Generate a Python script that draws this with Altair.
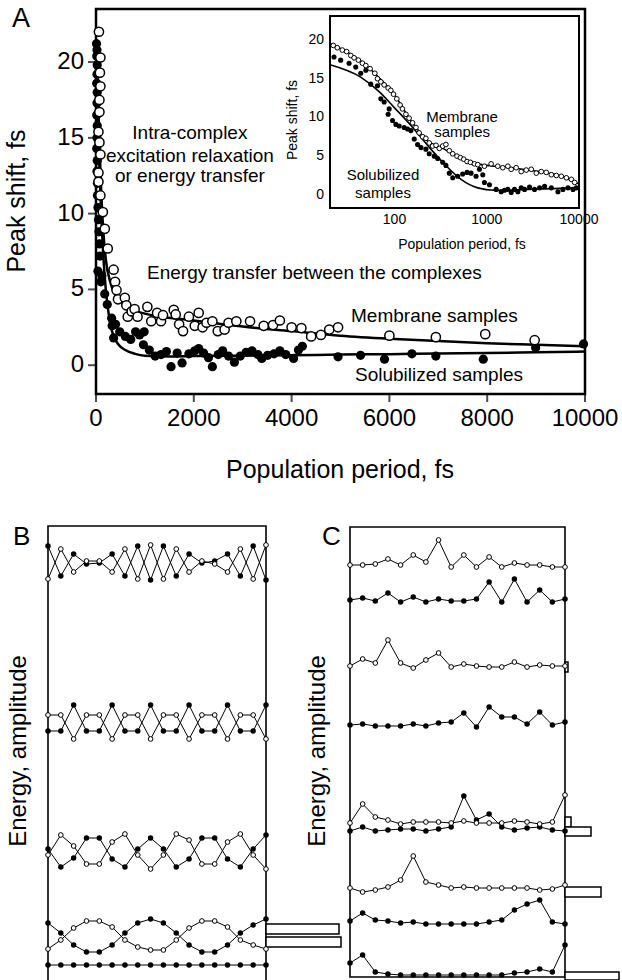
import altair as alt
import pandas as pd

FONT = "Liberation Sans"

# ---------------- Panel A (main, linear) ----------------
A_X_DOM = [0, 10000]
A_Y_DOM = [-1.9, 23.5]
A_X_TICKS = [0, 2000, 4000, 6000, 8000, 10000]
A_Y_TICKS = [0, 5, 10, 15, 20]

mem_t = [60, 90, 80, 90, 70, 70, 50, 70, 90, 50, 50, 90, 140, 180, 240, 360, 390, 420, 450, 590,
         620, 650, 730, 790, 850, 1050, 1130, 1250, 1330, 1370, 1590, 1630, 1700, 1780, 1900, 2020, 2100, 2180, 2260, 2380,
         2490, 2630, 2710, 2870, 3150, 3430, 3620, 3760, 4000, 4200, 4400, 4600, 4770, 4950, 6000, 6950, 7960, 8970]
mem_v = [22.0, 20.3, 19.3, 18.4, 17.5, 16.7, 15.4, 14.7, 13.9, 12.7, 12.1, 11.2, 10.1, 9.0, 7.7, 6.3, 5.5, 4.95, 4.35, 4.45,
         3.95, 3.2, 3.55, 3.7, 3.2, 3.85, 2.9, 3.45, 2.9, 3.3, 3.65, 3.35, 2.7, 2.25, 3.2, 2.6, 3.45, 2.5, 2.8, 2.9,
         2.25, 2.35, 2.8, 2.9, 2.9, 2.6, 2.65, 2.95, 2.5, 2.45, 1.9, 2.0, 2.35, 2.5, 1.95, 1.85, 2.05, 1.65]
sol_t = [10, 20, 15, 25, 20, 15, 25, 20, 15, 25, 20, 15, 25, 20, 30, 30, 40, 50, 60, 70,
         80, 40, 120, 100, 178, 230, 320, 330, 360, 400, 485, 600, 710, 810, 890, 985, 970, 1090, 1210, 1330,
         1440, 1535, 1660, 1760, 1900, 2020, 2100, 2200, 2300, 2380, 2500, 2590, 2710, 2830, 2950, 3070, 3190, 3310, 3390, 3510,
         3640, 3760, 3880, 4040, 4140, 4220, 4950, 5410, 5900, 6460, 6950, 7920, 8990, 9970]
sol_v = [21.2, 20.8, 20.4, 19.8, 19.2, 18.6, 18.0, 17.3, 16.5, 15.8, 15.0, 14.3, 13.5, 12.8, 12.0, 11.2, 10.4, 9.6, 8.8, 8.0,
         7.2, 6.2, 5.9, 5.5, 4.7, 4.0, 3.1, 2.6, 1.8, 2.7, 2.2, 1.9, 1.7, 2.2, 2.0, 2.2, 1.35, 1.0, 0.6, 0.7,
         0.9, -0.1, 0.8, 0.15, 0.75, 0.95, 1.1, 0.8, 0.5, -0.1, 0.7, 0.95, 0.6, 0.2, 0.6, 0.85, 0.95, 0.7, 0.45, 0.65,
         0.75, 0.95, 0.7, 0.45, 1.0, 1.25, 0.55, 0.65, 0.4, 0.75, 0.6, 0.4, 1.15, 1.4]
memfit_t = [20, 50, 100, 150, 200, 300, 400, 600, 1000, 2000, 3000, 4000, 5000, 6000, 7000, 8000, 9000, 10000]
memfit_v = [21.5, 17.0, 12.0, 8.8, 7.0, 5.4, 4.6, 3.9, 3.4, 2.95, 2.55, 2.25, 1.95, 1.75, 1.6, 1.45, 1.35, 1.25]
solfit_t = [20, 50, 100, 150, 200, 250, 300, 350, 450, 600, 800, 1000, 1500, 2000, 3000, 4000, 5000, 6000, 7000, 8000, 9000, 10000]
solfit_v = [21.0, 15.5, 10.5, 7.2, 5.0, 3.6, 2.6, 2.0, 1.4, 1.0, 0.75, 0.63, 0.58, 0.6, 0.63, 0.66, 0.7, 0.73, 0.77, 0.8, 0.85, 0.9]

A_note_text = ["Intra-complex", "excitation relaxation", "or energy transfer"]
A_note_t = [1920, 1920, 1920]
A_note_v = [15.3, 13.8, 12.5]
A_note2_text = ["Energy transfer between the complexes", "Membrane samples", "Solubilized samples"]
A_note2_t = [1043, 5215, 5297]
A_note2_v = [6.1, 3.25, -0.64]

# ---------------- Inset (log time) ----------------
I_X_DOM = [20, 10000]
I_Y_DOM = [-1.7, 23.1]
I_X_TICKS = [100, 1000, 10000]
I_Y_TICKS = [0, 5, 10, 15, 20]
I_mem_t = [21.7, 24.0, 27.2, 30.3, 33.6, 36.5, 40.6, 44.9, 48.9, 54.4, 61.2, 65.4, 71.1, 77.3, 85.4, 91.3, 97.6, 106, 115, 122,
           133, 144, 157, 171, 185, 202, 219, 238, 259, 282, 306, 333, 361, 393, 428, 476, 518, 563, 612, 665,
           735, 799, 944, 1115, 1318, 1493, 1693, 1841, 2085, 2363, 2679, 3035, 3443, 3900, 4418, 5012, 5677, 6429, 7295, 8260, 8975]
I_mem_v = [19.3, 19.0, 18.7, 18.5, 18.0, 17.7, 17.4, 17.0, 16.7, 16.3, 15.7, 15.0, 14.6, 14.2, 13.8, 13.5, 13.0, 12.4, 11.6, 11.1,
           10.4, 9.9, 9.3, 8.7, 8.0, 7.5, 7.3, 6.7, 6.3, 6.4, 6.0, 6.3, 6.5, 5.7, 5.3, 5.0, 4.8, 4.6, 4.3, 4.2,
           4.0, 3.9, 3.7, 4.0, 3.7, 3.5, 3.7, 3.3, 3.5, 3.0, 3.2, 3.3, 2.8, 3.0, 2.9, 2.6, 2.5, 2.4, 2.2, 2.0, 1.6]
I_sol_t = [22.1, 26.1, 32.2, 38.0, 43.1, 48.9, 55.3, 65.4, 71.1, 77.3, 85.4, 87.6, 95.2, 103.5, 112.5, 127.4, 138.6, 150.6, 163.7, 177.9,
           193.6, 219, 238, 270, 294, 333, 361, 393, 428, 484, 548, 612, 676, 766, 834, 906, 944, 1070, 1265, 1433,
           1557, 1693, 1841, 2000, 2174, 2363, 2570, 2911, 3297, 3740, 4236, 5012, 5915, 6700, 7603, 8610, 9355]
I_sol_v = [17.8, 17.4, 17.0, 16.5, 15.7, 16.1, 14.3, 14.1, 12.4, 12.0, 10.4, 11.1, 9.6, 9.1, 8.9, 8.7, 8.5, 8.3, 7.2, 6.5,
           6.1, 5.9, 5.3, 5.0, 4.7, 4.2, 3.8, 2.8, 2.2, 2.4, 2.7, 2.9, 2.8, 2.4, 3.3, 2.6, 1.6, 1.3, 0.7, 0.4,
           0.6, 0.7, 0.3, 0.7, 0.4, 0.9, 0.7, 1.0, 0.7, 0.9, 1.1, 0.9, 0.4, 0.7, 0.9, 0.7, 0.9]
I_memfit_t = [20, 43, 70, 99, 150, 228, 346, 526, 799, 1200, 1841, 2799, 4252, 6429, 10000]
I_memfit_v = [19.6, 17.3, 15.0, 13.0, 9.6, 7.0, 5.9, 4.8, 4.0, 3.7, 3.5, 3.2, 2.9, 2.4, 1.4]
I_solfit_t = [20, 43, 70, 99, 150, 228, 346, 526, 799, 1211, 2799, 10000]
I_solfit_v = [16.8, 15.2, 13.2, 11.3, 9.0, 6.4, 4.0, 2.0, 0.9, 0.6, 0.7, 0.9]
I_note_text = ["Membrane", "samples", "Solubilized", "samples"]
I_note_t = [540, 540, 75, 75]
I_note_v = [10.1, 8.1, 2.6, 0.3]

# ---------------- Panel B (energy levels, 18 sites) ----------------
B_DOM = [0, 454]
B_idx = list(range(18))
B_rows = {
    "r1f": [434, 404, 426, 416, 417, 426, 404, 434, 400, 434, 404, 426, 417, 419, 426, 404, 434, 400],
    "r1o": [401, 431, 408, 419, 419, 408, 431, 401, 435, 401, 431, 408, 419, 416, 408, 431, 401, 435],
    "r2f": [249, 249, 275, 249, 249, 275, 249, 249, 275, 249, 249, 275, 249, 249, 275, 249, 249, 275],
    "r2o": [265, 265, 241, 265, 265, 241, 265, 265, 241, 265, 265, 241, 265, 265, 241, 265, 265, 241],
    "r3f": [131, 113, 122, 142, 142, 121, 113, 131, 142, 131, 113, 121, 142, 142, 121, 113, 131, 145],
    "r3o": [125, 145, 134, 116, 116, 138, 146, 125, 111, 125, 146, 140, 116, 116, 138, 146, 125, 111],
    "r4f": [57, 47, 35, 28, 28, 35, 47, 57, 61, 57, 47, 35, 28, 28, 35, 47, 55, 61],
    "r4o": [31, 40, 52, 59, 59, 53, 40, 33, 30, 30, 40, 52, 59, 59, 53, 40, 35, 31],
    "r5f": [15, 15, 15, 15, 15, 15, 15, 15, 15, 15, 15, 15, 15, 15, 15, 15, 15, 15],
}
B_bar_len = [73, 75]
B_bar_top = [56, 43]
B_bar_bot = [46, 33]

# ---------------- Panel C ----------------
C_DOM = [0, 450]
C_idx = list(range(18))
C_rows = {
    "r1o": [412, 412, 413, 418, 412, 422, 415, 437, 410, 422, 410, 420, 410, 414, 412, 412, 410, 410],
    "r2f": [377, 379, 376, 384, 375, 380, 375, 378, 376, 376, 378, 395, 375, 398, 375, 387, 375, 378],
    "r3o": [311, 318, 314, 337, 314, 309, 317, 324, 310, 313, 311, 310, 310, 315, 310, 312, 311, 311],
    "r4f": [252, 253, 251, 251, 251, 253, 251, 254, 255, 264, 250, 270, 260, 260, 253, 265, 252, 255],
    "r5o": [154, 173, 160, 157, 153, 155, 155, 155, 154, 156, 154, 154, 154, 156, 155, 153, 155, 182],
    "r6f": [146, 150, 146, 147, 148, 148, 146, 148, 150, 181, 157, 163, 150, 147, 149, 150, 147, 146],
    "r7o": [89, 85, 87, 90, 97, 121, 95, 92, 89, 90, 89, 89, 89, 89, 89, 87, 88, 92],
    "r8f": [56, 64, 57, 56, 54, 55, 53, 53, 53, 53, 53, 55, 57, 67, 73, 77, 55, 53],
    "r9f": [14, 22, 5, 3, 2, 2, 2, 2, 2, 2, 2, 2, 2, 4, 5, 8, 5, 32],
}
C_bar_len = [6, 26, 36, 54, 3]
C_bar_top = [160, 150, 90, 5, 315]
C_bar_bot = [150, 141, 80, -3, 305]

# ---------------- layout (pixel ranges of each panel) ----------------
A_XR, A_YR = [96, 585], [394, 9]
I_XR, I_YR = [330, 579], [208, 16]
B_XR, B_YR = [48, 266], [980, 526]
C_XR, C_YR = [350, 565], [977, 527]
BB_XR = [266, 366]
CB_XR = [565, 665]
BAR_DOM = [0, 100]


def lin(dom, rng):
    return alt.Scale(domain=dom, range=rng, nice=False, zero=False)


sxA, syA = lin(A_X_DOM, A_XR), lin(A_Y_DOM, A_YR)
sxI = alt.Scale(type="log", domain=I_X_DOM, range=I_XR, nice=False)
syI = lin(I_Y_DOM, I_YR)
sxB, syB = lin([0, 17], B_XR), lin(B_DOM, B_YR)
sxC, syC = lin([0, 17], C_XR), lin(C_DOM, C_YR)
sxBB = lin(BAR_DOM, BB_XR)
sxCB = lin(BAR_DOM, CB_XR)


def XY(xs, ys, xf="x", yf="y"):
    return dict(x=alt.X(xf, type="quantitative", scale=xs, axis=None),
                y=alt.Y(yf, type="quantitative", scale=ys, axis=None))


def txt(size, **kw):
    return dict(font=FONT, fontSize=size, color="black", **kw)


layers = []


def frame(xs, ys, xd, yd, sw):
    df = pd.DataFrame({"x": [xd[0]], "x2": [xd[1]], "y": [yd[0]], "y2": [yd[1]]})
    return alt.Chart(df).mark_rect(fillOpacity=0, stroke="black", strokeWidth=sw).encode(
        **XY(xs, ys), x2="x2:Q", y2="y2:Q")


def pts(xs, ys, t, v, size, filled, sw=1.0):
    df = pd.DataFrame({"x": t, "y": v})
    if filled:
        m = alt.Chart(df).mark_circle(color="black", size=size, opacity=1)
    else:
        m = alt.Chart(df).mark_point(shape="circle", filled=True, fill="white", stroke="black",
                                     strokeWidth=sw, size=size, opacity=1)
    return m.encode(**XY(xs, ys))


def fit(xs, ys, t, v, sw):
    df = pd.DataFrame({"x": t, "y": v})
    return alt.Chart(df).mark_line(color="black", strokeWidth=sw, interpolate="monotone").encode(**XY(xs, ys))


# ---- Panel A main ----
layers.append(frame(sxA, syA, A_X_DOM, A_Y_DOM, 2.5))
yt = pd.DataFrame({"x": [A_X_DOM[0]] * len(A_Y_TICKS), "y": A_Y_TICKS, "lab": [str(v) for v in A_Y_TICKS]})
xt = pd.DataFrame({"x": A_X_TICKS, "y": [A_Y_DOM[0]] * len(A_X_TICKS), "lab": [str(v) for v in A_X_TICKS]})
layers.append(alt.Chart(yt).mark_tick(orient="horizontal", size=8, thickness=2, xOffset=-4, color="black").encode(**XY(sxA, syA)))
layers.append(alt.Chart(xt).mark_tick(orient="vertical", size=8, thickness=2, yOffset=4, color="black").encode(**XY(sxA, syA)))
layers.append(alt.Chart(yt).mark_text(**txt(24, align="right", baseline="middle", dx=-12)).encode(**XY(sxA, syA), text="lab:N"))
layers.append(alt.Chart(xt).mark_text(**txt(24, align="center", baseline="middle", dy=25)).encode(**XY(sxA, syA), text="lab:N"))
layers.append(fit(sxA, syA, memfit_t, memfit_v, 2.5))
layers.append(fit(sxA, syA, solfit_t, solfit_v, 2.5))
layers.append(pts(sxA, syA, sol_t, sol_v, 85, True))
layers.append(pts(sxA, syA, mem_t, mem_v, 85, False, 1.5))
n1 = pd.DataFrame({"x": A_note_t, "y": A_note_v, "t": A_note_text})
n2 = pd.DataFrame({"x": A_note2_t, "y": A_note2_v, "t": A_note2_text})
layers.append(alt.Chart(n1).mark_text(**txt(19, align="center", baseline="middle")).encode(**XY(sxA, syA), text="t:N"))
layers.append(alt.Chart(n2).mark_text(**txt(19, align="left", baseline="middle")).encode(**XY(sxA, syA), text="t:N"))

# ---- Inset ----
layers.append(frame(sxI, syI, I_X_DOM, I_Y_DOM, 2))
iyt = pd.DataFrame({"x": [I_X_DOM[0]] * len(I_Y_TICKS), "y": I_Y_TICKS, "lab": [str(v) for v in I_Y_TICKS]})
ixt = pd.DataFrame({"x": I_X_TICKS, "y": [I_Y_DOM[0]] * len(I_X_TICKS), "lab": [str(v) for v in I_X_TICKS]})
layers.append(alt.Chart(iyt).mark_text(**txt(14, align="right", baseline="middle", dx=-6)).encode(**XY(sxI, syI), text="lab:N"))
layers.append(alt.Chart(ixt).mark_text(**txt(14, align="center", baseline="middle", dy=12)).encode(**XY(sxI, syI), text="lab:N"))
layers.append(fit(sxI, syI, I_memfit_t, I_memfit_v, 1.6))
layers.append(fit(sxI, syI, I_solfit_t, I_solfit_v, 1.6))
layers.append(pts(sxI, syI, I_sol_t, I_sol_v, 26, True))
layers.append(pts(sxI, syI, I_mem_t, I_mem_v, 22, False, 1.0))
ni = pd.DataFrame({"x": I_note_t, "y": I_note_v, "t": I_note_text})
layers.append(alt.Chart(ni).mark_text(**txt(15, align="center", baseline="middle")).encode(**XY(sxI, syI), text="t:N"))


# ---- Panels B and C ----
def rows_df(idx, rows):
    recs = []
    for name, vals in rows.items():
        for i, v in zip(idx, vals):
            recs.append({"x": i, "y": v, "row": name, "kind": "f" if name.endswith("f") else "o"})
    return pd.DataFrame(recs)


def bars(xs, ys, lens, tops, bots):
    df = pd.DataFrame({"x": [0] * len(lens), "x2": lens, "y": bots, "y2": tops})
    return alt.Chart(df).mark_rect(fill="white", stroke="black", strokeWidth=1.5).encode(
        **XY(xs, ys), x2="x2:Q", y2="y2:Q")


for sx, sy, idx, rows, dom, bx, blen, btop, bbot in [
    (sxB, syB, B_idx, B_rows, [-12, B_DOM[1]], sxBB, B_bar_len, B_bar_top, B_bar_bot),
    (sxC, syC, C_idx, C_rows, [C_DOM[0], C_DOM[1]], sxCB, C_bar_len, C_bar_top, C_bar_bot),
]:
    df = rows_df(idx, rows)
    layers.append(frame(sx, sy, [0, 17], dom, 1.6))
    layers.append(bars(bx, sy, blen, btop, bbot))
    layers.append(alt.Chart(df).mark_line(color="black", strokeWidth=1).encode(**XY(sx, sy), detail="row:N"))
    layers.append(alt.Chart(df[df.kind == "f"]).mark_circle(color="black", size=30, opacity=1).encode(**XY(sx, sy)))
    layers.append(alt.Chart(df[df.kind == "o"]).mark_point(shape="circle", filled=True, fill="white", stroke="black",
                                                           strokeWidth=1, size=22, opacity=1).encode(**XY(sx, sy)))

# ---- titles and panel letters ----
one = pd.DataFrame({"k": [0]})


def label(text, x, y, size, angle=0, align="center"):
    kw = txt(size, align=align, baseline="middle", text=text)
    if angle:
        kw["angle"] = angle
    return alt.Chart(one).mark_text(**kw).encode(x=alt.value(x), y=alt.value(y))


layers.append(label("A", 12, 19, 27, align="left"))
layers.append(label("B", 13, 537, 26, align="left"))
layers.append(label("C", 322, 537, 26, align="left"))
layers.append(label("Peak shift, fs", 17, 201, 25, angle=270))
layers.append(label("Population period, fs", 340, 470, 25))
layers.append(label("Peak shift, fs", 293, 120, 14, angle=270))
layers.append(label("Population period, fs", 462, 245, 14))
layers.append(label("Energy, amplitude", 19, 751, 24, angle=270))
layers.append(label("Energy, amplitude", 318, 751, 24, angle=270))

chart = alt.layer(*layers).resolve_scale(x="independent", y="independent").properties(
    width=622, height=980, autosize=alt.AutoSizeParams(type="none"), padding=0, background="white"
).configure_view(stroke=None)

chart.save("out.html", embed_options={"renderer": "svg", "actions": False})
